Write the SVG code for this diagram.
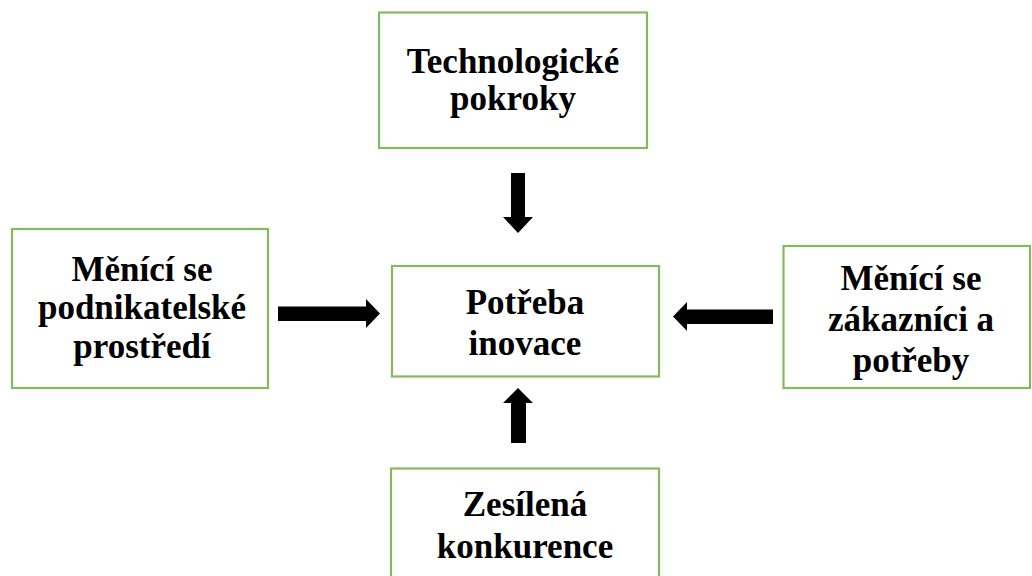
<svg xmlns="http://www.w3.org/2000/svg" width="1032" height="576" viewBox="0 0 1032 576">
<style>
.box{fill:#ffffff;stroke:#86b85e;stroke-width:2.2}
.t{font-family:"Liberation Serif","Times New Roman",serif;font-weight:bold;font-size:35px;fill:#000;text-anchor:middle}
.arr{fill:#000}
</style>
<rect width="1032" height="576" fill="#ffffff"/>
<g id="connectors">
<polygon class="arr" points="511,173 525,173 525,217 533,217 518,233 503,217 511,217"/>
<polygon class="arr" points="518,388 533,403 526,403 526,443 511,443 511,403 503,403"/>
<polygon class="arr" points="278,306.5 366,306.5 366,299 380,313.5 366,328 366,321 278,321"/>
<polygon class="arr" points="673,316.5 687,302 687,309.5 773,309.5 773,324 687,324 687,331"/>
</g>
<g id="node-tech">
<rect class="box" x="379" y="12.5" width="268" height="135.5"/>
<text class="t" x="513" y="72.5">Technologické</text>
<text class="t" x="513" y="110">pokroky</text>
</g>
<g id="node-business">
<rect class="box" x="12" y="229" width="256" height="159"/>
<text class="t" x="142" y="281">Měnící se</text>
<text class="t" x="142" y="318.5">podnikatelské</text>
<text class="t" x="142" y="357.5">prostředí</text>
</g>
<g id="node-center">
<rect class="box" x="392" y="266" width="267" height="110.5"/>
<text class="t" x="525" y="314">Potřeba</text>
<text class="t" x="525" y="355">inovace</text>
</g>
<g id="node-customers">
<rect class="box" x="783.5" y="246" width="246.5" height="142"/>
<text class="t" x="911" y="290">Měnící se</text>
<text class="t" x="911" y="331">zákazníci a</text>
<text class="t" x="911" y="371.5">potřeby</text>
</g>
<g id="node-competition">
<rect class="box" x="391" y="468.5" width="268" height="120"/>
<text class="t" x="525" y="516">Zesílená</text>
<text class="t" x="525" y="558">konkurence</text>
</g>
</svg>
